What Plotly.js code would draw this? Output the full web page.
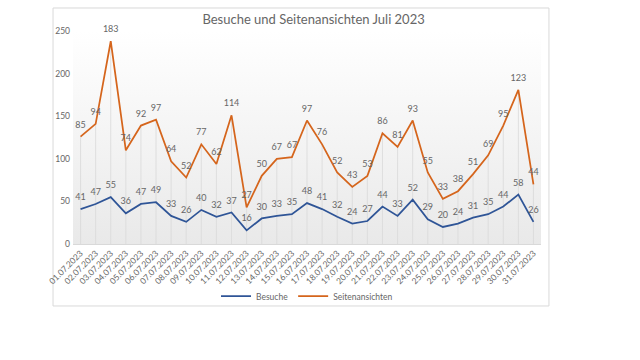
<!DOCTYPE html>
<html>
<head>
<meta charset="utf-8">
<script src="https://cdn.plot.ly/plotly-3.0.1.min.js"></script>
<style>html,body{margin:0;padding:0;background:#fff;}#chart{width:640px;height:360px;}</style>
</head>
<body>
<div id="chart"></div>
<script>
const dates = ["01.07.2023","02.07.2023","03.07.2023","04.07.2023","05.07.2023","06.07.2023","07.07.2023","08.07.2023","09.07.2023","10.07.2023","11.07.2023","12.07.2023","13.07.2023","14.07.2023","15.07.2023","16.07.2023","17.07.2023","18.07.2023","19.07.2023","20.07.2023","21.07.2023","22.07.2023","23.07.2023","24.07.2023","25.07.2023","26.07.2023","27.07.2023","28.07.2023","29.07.2023","30.07.2023","31.07.2023"];
const besuche = [41,47,55,36,47,49,33,26,40,32,37,16,30,33,35,48,41,32,24,27,44,33,52,29,20,24,31,35,44,58,26];
const seitenansichten = [85,94,183,74,92,97,64,52,77,62,114,27,50,67,67,97,76,52,43,53,86,81,93,55,33,38,51,69,95,123,44];
const yTicks = [0,50,100,150,200,250];

const stacked = besuche.map((v,i)=>v+seitenansichten[i]);
const labelFont = {family:"Lato, 'Liberation Sans', sans-serif", size:9, color:"#666666"};
const hiddenMarker = {size:9, color:"rgba(0,0,0,0)"};

const traces = [
  {
    x: dates, y: stacked, type:"scatter", mode:"markers",
    marker:{opacity:0, size:1}, showlegend:false, hoverinfo:"skip",
    error_y:{type:"data", symmetric:false, array: stacked.map(()=>0), arrayminus: stacked,
             width:0, thickness:0.8, color:"#d9d9d9"}
  },
  {
    x: dates, y: besuche, name:"Besuche", type:"scatter", mode:"lines+markers+text",
    stackgroup:"s", fill:"none", marker: hiddenMarker, cliponaxis:false,
    line:{color:"#2F5597", width:1.75},
    text: besuche.map(String), textposition:"top center", textfont: labelFont
  },
  {
    x: dates, y: seitenansichten, name:"Seitenansichten", type:"scatter", mode:"lines+markers+text",
    stackgroup:"s", fill:"none", marker: hiddenMarker, cliponaxis:false,
    line:{color:"#D5651C", width:1.75},
    text: seitenansichten.map(String), textposition:"top center", textfont: labelFont
  }
];

const svg = '<svg xmlns="http://www.w3.org/2000/svg" width="100" height="100" preserveAspectRatio="none" viewBox="0 0 100 100"><defs><linearGradient id="g" x1="0" y1="0" x2="0" y2="1"><stop offset="0" stop-color="#ffffff"/><stop offset="1" stop-color="#e9e9e9"/></linearGradient></defs><rect width="100" height="100" fill="url(#g)"/></svg>';

const layout = {
  width:640, height:360,
  margin:{l:73, r:99, t:31, b:116},
  paper_bgcolor:"#ffffff", plot_bgcolor:"rgba(0,0,0,0)",
  font:{family:"Lato, 'Liberation Sans', sans-serif", color:"#666666", size:9},
  title:{text:"Besuche und Seitenansichten Juli 2023", x:0.49, xanchor:"center", y:0.945, yanchor:"middle",
         font:{family:"Lato, 'Liberation Sans', sans-serif", size:13, color:"#666666"}},
  xaxis:{type:"category", range:[-0.5,30.5], showgrid:false, zeroline:false,
         showline:true, linecolor:"#d9d9d9", linewidth:1,
         tickangle:-45, tickfont:{size:8.5, color:"#666666"}, ticks:"", fixedrange:true},
  yaxis:{range:[0,250], tickvals:yTicks, showgrid:false, zeroline:false, showline:false,
         tickfont:{size:8.5, color:"#666666"}, ticks:"", ticklabelstandoff:2, fixedrange:true},
  legend:{orientation:"h", x:0.5, xanchor:"center", y:-0.245, yanchor:"middle",
          font:{size:8.5, color:"#666666"}, itemwidth:30, bgcolor:"rgba(0,0,0,0)"},
  images:[{source:"data:image/svg+xml;charset=utf-8,"+encodeURIComponent(svg),
           xref:"paper", yref:"paper", x:0, y:1, sizex:1, sizey:1,
           sizing:"stretch", xanchor:"left", yanchor:"top", layer:"below"}],
  shapes:[{type:"rect", xref:"paper", yref:"paper",
           x0:-0.0427, x1:1.017, y0:-0.291, y1:1.108,
           line:{color:"#d9d9d9", width:1}, fillcolor:"rgba(0,0,0,0)", layer:"below"}],
  showlegend:true
};

Plotly.newPlot("chart", traces, layout, {displayModeBar:false, staticPlot:true});
</script>
</body>
</html>
